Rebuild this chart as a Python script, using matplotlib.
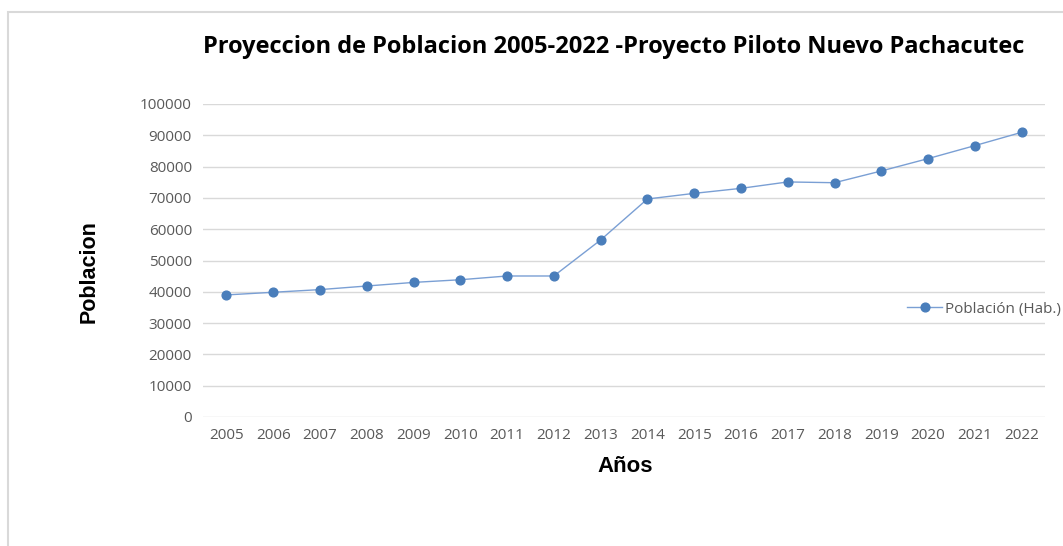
import matplotlib
matplotlib.use("Agg")
import matplotlib.pyplot as plt
from matplotlib.patches import Rectangle

years = ["2005", "2006", "2007", "2008", "2009", "2010", "2011", "2012", "2013",
         "2014", "2015", "2016", "2017", "2018", "2019", "2020", "2021", "2022"]
poblacion = [39000, 39850, 40700, 41850, 43000, 43850, 45050, 45050, 56550,
             69650, 71450, 73050, 75100, 74850, 78600, 82550, 86700, 90950]
yticks = [0, 10000, 20000, 30000, 40000, 50000, 60000, 70000, 80000, 90000, 100000]

W, H = 1063, 546
fig = plt.figure(figsize=(W / 100, H / 100), dpi=100)
fig.patch.set_facecolor("white")

# outer chart frame
fig.patches.append(Rectangle((8 / W, -0.1), 1.2, 1 - 12 / H + 0.1, transform=fig.transFigure,
                             fill=False, edgecolor="#D9D9D9", linewidth=1.5))

ax = fig.add_axes([203 / W, 1 - 417 / H, (1045 - 203) / W, (417 - 104) / H])
x = list(range(len(years)))
ax.plot(x, poblacion, color="#7A9FD4", linewidth=1.0, marker="o", markersize=6.3,
        markerfacecolor="#4A7EBB", markeredgecolor="#4A7EBB", label="Población (Hab.)")
ax.set_xlim(-0.5, len(years) - 0.5)
ax.set_ylim(0, 100000)
ax.set_yticks(yticks)
ax.set_yticklabels([str(v) for v in yticks])
ax.set_xticks(x)
ax.set_xticklabels(years)
ax.grid(axis="y", color="#D9D9D9", linewidth=1.0)
ax.set_axisbelow(True)
for s in ax.spines.values():
    s.set_visible(False)
ax.tick_params(length=0, labelsize=11, labelcolor="#595959", pad=8)
for lab in ax.get_xticklabels() + ax.get_yticklabels():
    lab.set_fontfamily("Open Sans")

fig.text(625 / W, 1 - 467 / H, "Años", ha="center", va="center", fontsize=16,
         fontweight="bold", family="Liberation Sans")
fig.text(89 / W, 1 - 272 / H, "Poblacion", ha="center", va="center", rotation=90,
         fontsize=15.5, fontweight="bold", family="Liberation Sans")
fig.text(614 / W, 1 - 47 / H, "Proyeccion de Poblacion 2005-2022 -Proyecto Piloto Nuevo Pachacutec",
         ha="center", va="center", fontsize=17, fontweight="bold", family="Open Sans")

leg = ax.legend(loc="center left", bbox_to_anchor=(698 / (1045 - 203), (417 - 309) / (417 - 104)),
                frameon=False, fontsize=11, handlelength=2.3, handletextpad=0.2,
                borderaxespad=0)
for t in leg.get_texts():
    t.set_color("#595959")
    t.set_fontfamily("Open Sans")

fig.savefig("out.png", dpi=100)
